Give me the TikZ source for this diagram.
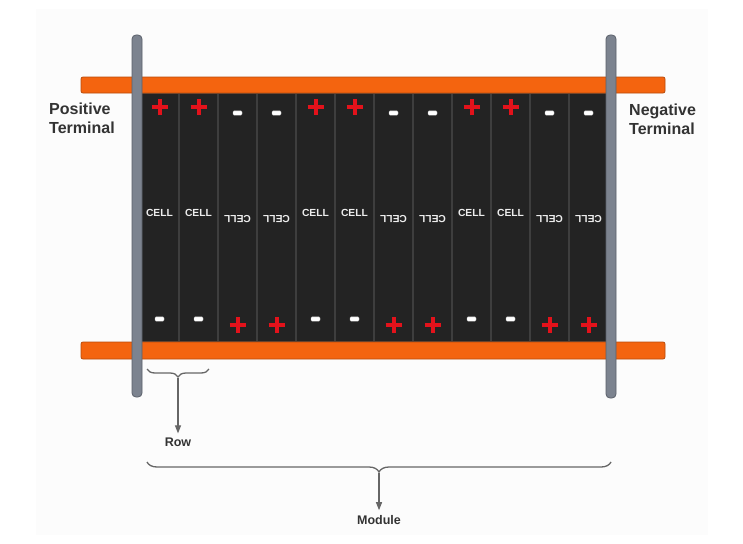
\documentclass[tikz,border=0pt]{standalone}
\usepackage{fontspec}
\setmainfont{Liberation Sans}
\usetikzlibrary{decorations.pathreplacing,arrows.meta}
\definecolor{bgpale}{HTML}{FCFCFC}
\definecolor{orangebar}{HTML}{F4640F}
\definecolor{orangeedge}{HTML}{B84B0C}
\definecolor{barfill}{HTML}{7C838F}
\definecolor{baredge}{HTML}{5A606A}
\definecolor{cellfill}{HTML}{232323}
\definecolor{celledge}{HTML}{3E3E3E}
\definecolor{plusred}{HTML}{E3121B}
\definecolor{labeltext}{HTML}{333333}
\definecolor{bracegray}{HTML}{666666}
\definecolor{celltextcol}{HTML}{EDEDED}
\tikzset{
  cellbox/.style={draw=celledge, line width=1.5pt, fill=cellfill, minimum width=39pt, minimum height=249pt, inner sep=0pt},
  celltext/.style={text=celltextcol, font=\fontsize{10.3}{12}\selectfont\bfseries, inner sep=1pt},
  termlabel/.style={text=labeltext, align=left, font=\fontsize{16}{19}\selectfont\bfseries, inner sep=2pt},
  smalllabel/.style={text=labeltext, font=\fontsize{12.5}{15}\selectfont\bfseries},
  orangestrip/.style={fill=orangebar, draw=orangeedge, line width=0.8pt, rounded corners=2pt},
  graybar/.style={fill=barfill, draw=baredge, line width=0.8pt, rounded corners=4pt},
  bracestyle/.style={draw=bracegray, line width=1.3pt, decorate},
  pointer/.style={draw=bracegray, line width=1.1pt, -{Triangle[length=8pt,width=6pt]}},
  pluspic/.pic={\draw[plusred, line width=4pt] (-8,0) -- (8,0) (0,-8) -- (0,8);},
  minuspic/.pic={\filldraw[fill=white, draw=white!75!black, line width=0.4pt, rounded corners=1pt] (-4.5,-2.2) rectangle (4.5,2.2);}
}
\begin{document}
\begin{tikzpicture}[x=1pt,y=-1pt]
\useasboundingbox (0,0) rectangle (743,543);
\fill[bgpale] (36,9) rectangle (708,535);

% cells
\foreach \i/\up in {0/1,1/1,2/0,3/0,4/1,5/1,6/0,7/0,8/1,9/1,10/0,11/0}{
  \node[cellbox] (c\i) at (159.5+39*\i, 217.5) {};
  \ifnum\up=1
    \node[celltext] (t\i) at (159.5+39*\i, 213) {CELL};
    \pic at (159.5+39*\i, 107) {pluspic};
    \pic at (159.5+39*\i, 319) {minuspic};
  \else
    \node[celltext, rotate=180] (t\i) at (159.5+39*\i, 219) {CELL};
    \pic at (159.5+39*\i, 113) {minuspic};
    \pic at (159.5+39*\i, 325) {pluspic};
  \fi
}

% orange busbars
\draw[orangestrip] (81,77) rectangle (665,93);
\draw[orangestrip] (81,342) rectangle (665,359);

% terminal posts
\draw[graybar] (132,35) rectangle (142,397);
\draw[graybar] (606,35) rectangle (616,398);

% terminal labels
\node[termlabel, anchor=west] (pos) at (47,118.5) {Positive\\Terminal};
\node[termlabel, anchor=west] (neg) at (627,119.5) {Negative\\Terminal};

% row brace
\coordinate (rowL) at (147,369);
\coordinate (rowR) at (209,369);
\draw[bracestyle, decoration={brace, mirror, amplitude=8pt}] (rowL) -- (rowR);
\coordinate (rowtip) at (178,378);
\node[smalllabel, inner sep=4pt] (row) at (178,442) {Row};
\draw[pointer] (rowtip) -- (row);

% module brace
\coordinate (modL) at (147,462);
\coordinate (modR) at (611,462);
\draw[bracestyle, decoration={brace, mirror, amplitude=10pt}] (modL) -- (modR);
\coordinate (modtip) at (379,473);
\node[smalllabel, inner sep=5pt] (module) at (379,520) {Module};
\draw[pointer] (modtip) -- (module);
\end{tikzpicture}
\end{document}
